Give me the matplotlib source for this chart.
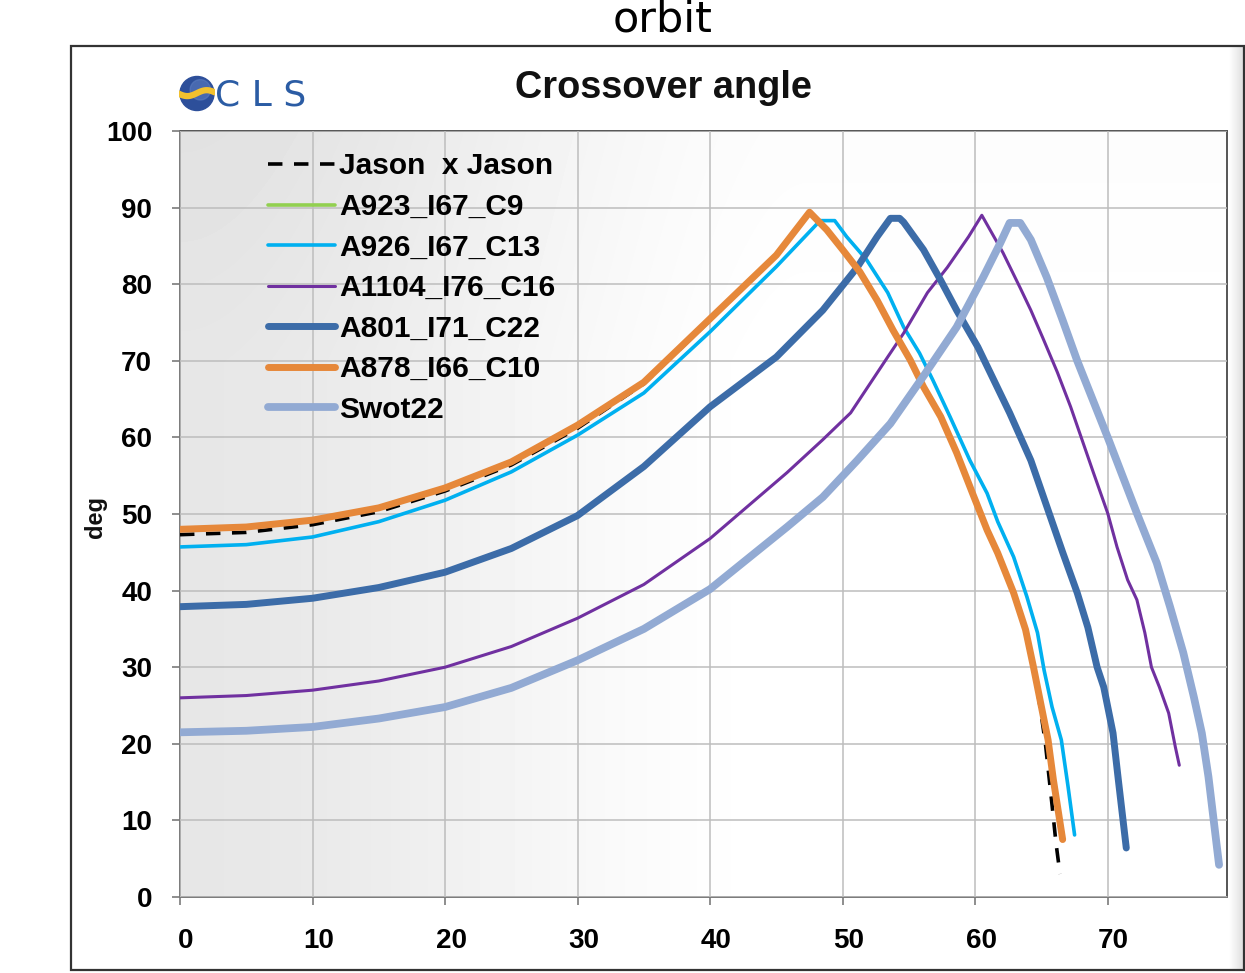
import numpy as np
import matplotlib
matplotlib.use("Agg")
import matplotlib.pyplot as plt
from matplotlib.patches import Rectangle, Circle
from matplotlib.transforms import ScaledTranslation

# ---------------- data ----------------
jason_x = [0, 5, 10, 15, 20, 25, 30, 35, 40, 45, 47.5, 48.8, 50.0, 51.3, 52.6, 53.8, 55.1, 56.1, 57.4,
           58.6, 59.8, 60.9, 61.7, 62.9, 63.8, 64.4, 64.9, 65.3, 65.8, 66.1, 66.4]
jason_y = [47.3, 47.6, 48.6, 50.3, 53.0, 56.4, 61.2, 67.0, 75.3, 83.8, 89.4, 87.1, 84.5, 81.6, 77.9, 74.0, 70.1, 66.6, 62.7,
           58.0, 52.7, 47.9, 44.9, 39.7, 34.9, 30.0, 24.8, 20.0, 12.0, 7.0, 3.0]

a923_x = [0, 5, 10, 15, 20, 25, 30, 35, 40, 45, 47.5, 48.8, 50.0, 51.3, 52.6, 53.8, 55.1, 56.1, 57.4,
          58.6, 59.8, 60.9, 61.7, 62.9, 63.8, 64.4, 65.0, 65.5, 65.9, 66.6]
a923_y = [48.0, 48.3, 49.2, 50.8, 53.4, 56.8, 61.6, 67.2, 75.5, 83.8, 89.4, 87.1, 84.5, 81.6, 77.9, 74.0, 70.1, 66.6, 62.7,
          58.0, 52.7, 47.9, 44.9, 39.7, 34.9, 30.0, 24.8, 20.5, 15.3, 7.5]

a926_x = [0, 5, 10, 15, 20, 25, 30, 35, 40, 45, 48.3, 49.4, 50.3, 51.8, 53.4, 54.6, 55.8, 56.8, 58.1,
          59.6, 60.9, 61.7, 62.9, 63.9, 64.7, 65.2, 65.8, 66.5, 67.0, 67.5]
a926_y = [45.7, 46.0, 47.0, 49.0, 51.8, 55.5, 60.3, 65.8, 73.8, 82.3, 88.3, 88.3, 86.2, 83.2, 78.9, 74.4, 71.0, 67.5, 62.7,
          57.0, 52.7, 49.0, 44.4, 39.2, 34.5, 29.6, 24.8, 20.5, 14.5, 8.1]

a1104_x = [0, 5, 10, 15, 20, 25, 30, 35, 40, 45.8, 48.5, 50.6, 53.4, 54.6, 56.4, 57.9, 59.5, 60.5,
           62.1, 63.4, 64.2, 65.1, 66.2, 67.2, 68.0, 68.9, 70.0, 70.7, 71.5, 72.2, 72.8, 73.3, 73.9, 74.6, 75.1, 75.4]
a1104_y = [26.0, 26.3, 27.0, 28.2, 30.0, 32.7, 36.4, 40.8, 46.8, 55.4, 59.7, 63.2, 70.5, 73.6, 78.9, 82.2, 86.2, 89.0,
           84.1, 79.5, 76.6, 73.0, 68.5, 64.0, 60.0, 55.5, 50.1, 45.7, 41.4, 38.8, 34.5, 30.0, 27.4, 24.0, 19.6, 17.2]

a801_x = [0, 5, 10, 15, 20, 25, 30, 35, 40, 45, 48.5, 51.1, 52.6, 53.6, 54.3, 54.6, 56.1, 57.4, 58.6, 60.2,
          61.4, 62.6, 64.2, 65.4, 66.6, 67.7, 68.5, 69.2, 69.7, 70.4, 70.8, 71.4]
a801_y = [37.9, 38.2, 39.0, 40.4, 42.4, 45.5, 49.8, 56.2, 64.0, 70.5, 76.6, 82.2, 86.2, 88.6, 88.6, 88.1, 84.5, 80.5, 76.6, 71.8,
          67.5, 63.2, 57.0, 51.0, 45.0, 39.7, 35.2, 30.0, 27.4, 21.4, 15.3, 6.4]

a878_x = [0, 5, 10, 15, 20, 25, 30, 35, 40, 45, 47.5, 48.8, 50.0, 51.3, 52.6, 53.8, 55.1, 56.1, 57.4,
          58.6, 59.8, 60.9, 61.7, 62.9, 63.8, 64.4, 65.0, 65.5, 65.9, 66.6]
a878_y = [48.0, 48.3, 49.2, 50.8, 53.4, 56.8, 61.6, 67.2, 75.5, 83.8, 89.4, 87.1, 84.5, 81.6, 77.9, 74.0, 70.1, 66.6, 62.7,
          58.0, 52.7, 47.9, 44.9, 39.7, 34.9, 30.0, 24.8, 20.5, 15.3, 7.5]

swot_x = [0, 5, 10, 15, 20, 25, 30, 35, 40, 45.8, 48.5, 51.1, 53.6, 56.1, 58.6, 60.6, 61.9, 62.6, 63.4,
          64.2, 65.4, 66.6, 67.7, 70.0, 71.2, 72.2, 73.7, 74.7, 75.7, 76.5, 77.1, 77.6, 78.4]
swot_y = [21.5, 21.7, 22.2, 23.3, 24.8, 27.3, 30.9, 35.0, 40.2, 48.3, 52.2, 57.0, 61.8, 68.0, 74.4, 80.9, 85.4, 88.0, 88.0,
          85.8, 80.9, 75.3, 70.0, 60.0, 54.6, 50.1, 43.6, 37.9, 31.9, 26.1, 21.4, 15.7, 4.2]

labels = ["Jason  x Jason", "A923_I67_C9", "A926_I67_C13", "A1104_I76_C16",
          "A801_I71_C22", "A878_I66_C10", "Swot22"]
xticks = [0, 10, 20, 30, 40, 50, 60, 70]
yticks = [0, 10, 20, 30, 40, 50, 60, 70, 80, 90, 100]

# ---------------- figure ----------------
W, H, DPI = 1245, 973, 100
fig = plt.figure(figsize=(W / DPI, H / DPI), dpi=DPI)
fig.patch.set_facecolor("white")
FONT = "Liberation Sans"

def fx(px):
    return px / W

def fy(py):
    return 1 - py / H

# outer chart frame
fig.patches.append(Rectangle((fx(71), fy(970)), fx(1244) - fx(71), fy(46) - fy(970),
                             transform=fig.transFigure, fill=False,
                             edgecolor="#333333", linewidth=1.6, zorder=0))

# subtle grey band on the right side of the chart area
band = fig.add_axes([fx(1229), fy(969), fx(1243) - fx(1229), fy(47) - fy(969)], zorder=-1)
band.imshow(np.linspace(1.0, 0.88, 30)[None, :], cmap="gray", vmin=0, vmax=1,
            aspect="auto", extent=[0, 1, 0, 1])
band.axis("off")

ax = fig.add_axes([fx(180), fy(897), fx(1227) - fx(180), fy(131) - fy(897)])

# gradient background of the plot area
gx = np.linspace(0, 1, 300)
gy = np.linspace(0, 1, 200)
GX, GY = np.meshgrid(gx, gy)
t = np.clip(GX / 0.6, 0, 1)
t = t * t * (3 - 2 * t)
shade = 0.905 + 0.095 * t
shade = shade - 0.02 * np.clip((GY - 0.7) / 0.3, 0, 1) * (1 - 0.5 * t)
ax.imshow(shade, cmap="gray", vmin=0, vmax=1, origin="lower", aspect="auto",
          extent=[0, 79, 0, 100], zorder=0, interpolation="bilinear")

ax.set_xlim(0, 79)
ax.set_ylim(0, 100)
ax.set_xticks(xticks)
ax.set_yticks(yticks)
ax.grid(True, color="#bdbdbd", linewidth=1.1, zorder=1)
ax.set_axisbelow(False)

series = [
    (jason_x, jason_y, dict(color="black", lw=2.6, ls=(0, (4, 3.2)))),
    (a923_x, a923_y, dict(color="#92d050", lw=2.6)),
    (a926_x, a926_y, dict(color="#00b0f0", lw=2.6)),
    (a1104_x, a1104_y, dict(color="#7030a0", lw=2.2)),
    (a801_x, a801_y, dict(color="#3c6ca8", lw=5.0)),
    (a878_x, a878_y, dict(color="#e6883a", lw=5.0)),
    (swot_x, swot_y, dict(color="#92aad3", lw=5.6)),
]
for (x, y, st), lab in zip(series, labels):
    ax.plot(x, y, label=lab, zorder=3, solid_capstyle="round", solid_joinstyle="round", **st)

for s in ax.spines.values():
    s.set_color("#7a7a7a")
    s.set_linewidth(1.4)
ax.spines["top"].set_color("#555555")
ax.spines["right"].set_color("#555555")

ax.tick_params(axis="both", direction="out", length=6, width=1.2, color="#7a7a7a")
ax.tick_params(axis="x", pad=16)
ax.tick_params(axis="y", pad=14)
for lab in ax.get_xticklabels() + ax.get_yticklabels():
    lab.set_fontfamily(FONT)
    lab.set_fontweight("bold")
    lab.set_fontsize(20)
for lab in ax.get_xticklabels():
    lab.set_transform(lab.get_transform() + ScaledTranslation(6 / DPI, 0, fig.dpi_scale_trans))

leg = ax.legend(loc="upper left", bbox_to_anchor=(0.084, 0.972), frameon=False,
                prop=dict(family=FONT, weight="bold", size=21.5),
                handlelength=2.24, handletextpad=0.15, labelspacing=0.42,
                borderpad=0, borderaxespad=0)
leg.set_zorder(5)

# titles and labels
fig.text(fx(663), fy(20), "orbit", ha="center", va="center",
         fontsize=31, family="DejaVu Sans", color="black")
fig.text(fx(663), fy(88), "Crossover angle", ha="center", va="center",
         fontsize=27.3, family=FONT, weight="bold", color="#111111")
fig.text(fx(95), fy(517), "deg", ha="center", va="center", rotation=90,
         fontsize=17, family=FONT, weight="bold", color="#111111")

# CLS logo
logo = fig.add_axes([fx(178), fy(112), fx(216) - fx(178), fy(75) - fy(112)])
logo.set_xlim(-1, 1)
logo.set_ylim(-1, 1)
logo.set_aspect("equal")
logo.add_patch(Circle((0, 0), 0.92, color="#2d4f9a"))
logo.add_patch(Circle((0.18, 0.2), 0.55, color="#5b7cc0", alpha=0.6))
wv = np.linspace(-1.05, 0.95, 50)
logo.plot(wv, 0.02 + 0.16 * np.sin(wv * 3.0), color="#f2c12e", lw=4.5, solid_capstyle="round")
logo.axis("off")
fig.text(fx(215), fy(95), "C L S", ha="left", va="center", fontsize=26,
         family="DejaVu Sans", color="#2b5ca4")

fig.savefig("out.png", dpi=DPI, facecolor="white")
